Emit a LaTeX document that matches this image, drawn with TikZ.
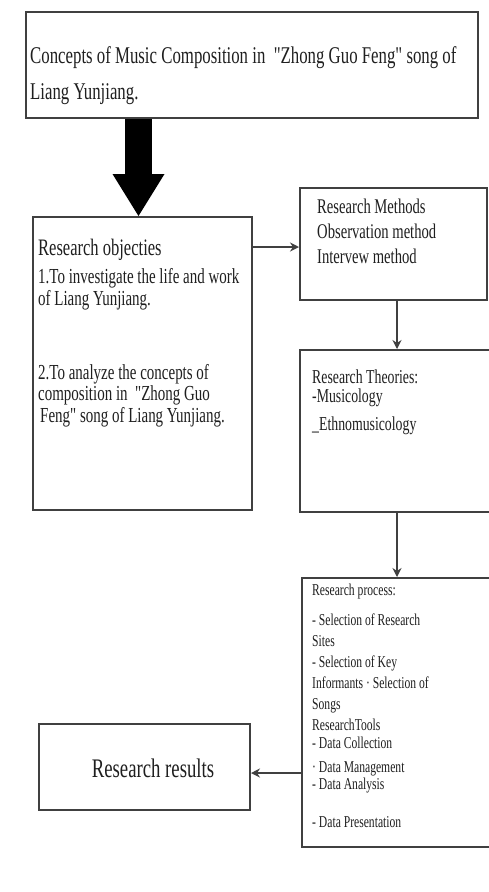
\documentclass[tikz,border=0pt]{standalone}
\usepackage{fontspec}
\setmainfont[FakeStretch=0.7,Ligatures=TeXOff]{Liberation Serif}
\usetikzlibrary{arrows.meta}

\begin{document}
\begin{tikzpicture}[x=1pt,y=-1pt,
    box/.style={draw=black!75,line width=2pt,inner sep=0pt},
    boxtext/.style={anchor=north west,inner sep=0pt,align=left,text=black!88},
    link/.style={draw=black!75,line width=1.8pt,-{Stealth[length=9pt,width=9pt]}}]
  \fill[white] (0,0) rectangle (488,892);
  \useasboundingbox (0,0) rectangle (488,892);
  % boxes
  \node[box,minimum width=452,minimum height=106] (concept) at (252,65) {};
  \node[box,minimum width=219,minimum height=293] (objectives) at (142.5,363.5) {};
  \node[box,minimum width=187,minimum height=112] (methods) at (393.5,244) {};
  \node[box,minimum width=192,minimum height=162] (theories) at (396,431) {};
  \node[box,minimum width=190,minimum height=269] (process) at (397,712.5) {};
  \node[box,minimum width=211,minimum height=86] (results) at (144.5,767) {};
  % texts
  \node[boxtext,font=\fontsize{24}{36}\selectfont] (concept text) at (30,46.6)
    {Concepts of Music Composition in~ "Zhong Guo Feng" song of\\Liang Yunjiang.};
  \node[boxtext,font=\fontsize{23.6}{26}\selectfont] (objectives head) at (38,238.9)
    {Research objecties};
  \node[boxtext,font=\fontsize{21.4}{21.5}\selectfont] (objectives text) at (38,268.4)
    {1.To investigate the life and work\\of Liang Yunjiang.\\[52.5pt]
     2.To analyze the concepts of\\composition in~ "Zhong Guo\\\hspace{2pt}Feng" song of Liang Yunjiang.};
  \node[boxtext,font=\fontsize{20.9}{25}\selectfont] (methods text) at (317,198.7)
    {Research Methods\\Observation method\\Intervew method};
  \node[boxtext,font=\fontsize{19.7}{19}\selectfont] (theories text) at (312,369.5)
    {Research Theories:\\-Musicology\\[9pt]\_Ethnomusicology};
  \node[boxtext,font=\fontsize{16.6}{21}\selectfont] (process text) at (312,583.7)
    {Research process:\\[9pt]
     - Selection of Research\\Sites\\- Selection of Key\\Informants · Selection of\\Songs\\
     ResearchTools\\[-3pt]- Data Collection\\[3pt]· Data Management\\[-4pt]- Data Analysis\\[17pt]
     - Data Presentation};
  \node[anchor=base,inner sep=0pt,text=black!88,font=\fontsize{26.8}{30}\selectfont] (results text) at (153,777)
    {Research results};
  % connectors
  \coordinate (bigarrow) at (138.5,0);
  \coordinate (objlink) at (0,247);
  \coordinate (downlink) at (397,0);
  \coordinate (reslink) at (0,773);
  \draw[line width=27pt,-{Triangle[width=52pt,length=42pt,line width=0pt]}]
    (concept.south -| bigarrow) -- (objectives.north -| bigarrow);
  \draw[link] (objectives.east |- objlink) -- (methods.west |- objlink);
  \draw[link] (methods.south -| downlink) -- (theories.north -| downlink);
  \draw[link] (theories.south -| downlink) -- (process.north -| downlink);
  \draw[link] (process.west |- reslink) -- (results.east |- reslink);
\end{tikzpicture}
\end{document}
